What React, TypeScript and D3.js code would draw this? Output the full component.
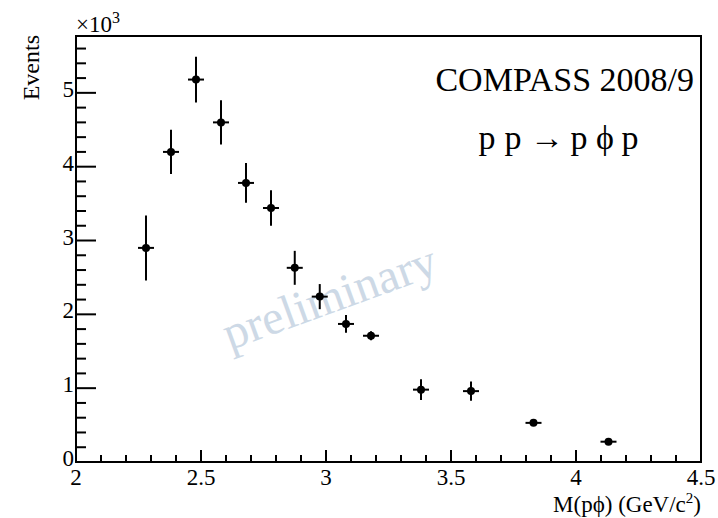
import React from 'react';
import * as d3 from 'd3';

// M(p phi) bin centres in GeV/c^2
const mass = [2.28, 2.38, 2.48, 2.58, 2.68, 2.78, 2.875, 2.975, 3.08, 3.18, 3.38, 3.58, 3.83, 4.13];
// events in units of 10^3
const events = [2.9, 4.2, 5.18, 4.6, 3.78, 3.44, 2.63, 2.24, 1.87, 1.71, 0.98, 0.96, 0.53, 0.275];
const errors = [0.44, 0.3, 0.31, 0.3, 0.27, 0.24, 0.23, 0.17, 0.12, 0.06, 0.14, 0.13, 0.04, 0.02];

const xMajor = [2, 2.5, 3, 3.5, 4, 4.5];
const yMajor = [0, 1, 2, 3, 4, 5];

const reaction = ['p', 'p', '→', 'p', 'ϕ', 'p'];

const FONT = '"Liberation Serif", "DejaVu Serif", serif';

const App = () => {
  const ref = React.useRef<SVGSVGElement>(null);

  React.useEffect(() => {
    const svg = d3.select(ref.current);
    svg.selectAll('*').remove();

    const width = 718;
    const height = 518;
    const left = 76, right = 701, top = 36, bottom = 462;

    const x = d3.scaleLinear().domain([2, 4.5]).range([left, right]);
    const y = d3.scaleLinear().domain([0, 5.77]).range([bottom, top]);

    svg.attr('width', width).attr('height', height);
    svg.append('rect').attr('width', width).attr('height', height).attr('fill', '#fff');

    // watermark
    svg.append('text')
      .attr('transform', 'translate(335,312) rotate(-20)')
      .attr('text-anchor', 'middle')
      .attr('font-family', FONT)
      .attr('font-size', 48)
      .attr('fill', '#cdd9e6')
      .text('preliminary');

    // frame
    svg.append('rect')
      .attr('x', left).attr('y', top)
      .attr('width', right - left).attr('height', bottom - top)
      .attr('fill', 'none').attr('stroke', '#000').attr('stroke-width', 2);

    // x ticks
    const xMinor = d3.range(20, 45).map(d => d / 10);
    svg.append('g').selectAll('line')
      .data(xMinor)
      .join('line')
      .attr('x1', d => x(d)).attr('x2', d => x(d))
      .attr('y1', bottom)
      .attr('y2', d => bottom - (Math.abs(d * 2 - Math.round(d * 2)) < 1e-6 ? 12 : 7))
      .attr('stroke', '#000').attr('stroke-width', 2);

    svg.append('g')
      .attr('font-family', FONT).attr('font-size', 23).attr('text-anchor', 'middle')
      .selectAll('text')
      .data(xMajor)
      .join('text')
      .attr('x', d => x(d)).attr('y', 485)
      .text(d => d3.format('')(d));

    // y ticks
    const yMinor = d3.range(0, 29).map(d => d / 5);
    svg.append('g').selectAll('line')
      .data(yMinor)
      .join('line')
      .attr('x1', left)
      .attr('x2', d => left + (Math.abs(d - Math.round(d)) < 1e-6 ? 20 : 10))
      .attr('y1', d => y(d)).attr('y2', d => y(d))
      .attr('stroke', '#000').attr('stroke-width', 2);

    svg.append('g')
      .attr('font-family', FONT).attr('font-size', 23).attr('text-anchor', 'end')
      .selectAll('text')
      .data(yMajor)
      .join('text')
      .attr('x', 74).attr('y', d => y(d) + 4)
      .text(d => d);

    // exponent
    const exp = svg.append('text')
      .attr('x', left).attr('y', 32)
      .attr('font-family', FONT).attr('font-size', 23);
    exp.append('tspan').text('×10');
    exp.append('tspan').attr('dy', -9).attr('font-size', 16).text('3');

    // axis titles
    svg.append('text')
      .attr('transform', 'translate(39,35) rotate(-90)')
      .attr('text-anchor', 'end')
      .attr('font-family', FONT).attr('font-size', 24)
      .text('Events');

    const xt = svg.append('text')
      .attr('x', right).attr('y', 512)
      .attr('text-anchor', 'end')
      .attr('font-family', FONT).attr('font-size', 23);
    xt.append('tspan').text('M(pϕ) (GeV/c');
    xt.append('tspan').attr('dy', -9).attr('font-size', 15).text('2');
    xt.append('tspan').attr('dy', 9).text(')');

    // labels
    svg.append('text')
      .attr('x', 694).attr('y', 91)
      .attr('text-anchor', 'end')
      .attr('font-family', FONT).attr('font-size', 34)
      .text('COMPASS 2008/9');

    // reaction, one glyph per slot
    const slots = [487, 513, 547, 579, 605, 630];
    const rx = svg.append('text')
      .attr('y', 149)
      .attr('text-anchor', 'middle')
      .attr('font-family', FONT).attr('font-size', 34);
    reaction.forEach((s, i) => {
      rx.append('tspan').attr('x', slots[i]).text(s);
    });

    // data points
    const pts = mass.map((m, i) => ({ m, v: events[i], e: errors[i] }));
    const g = svg.append('g');
    g.selectAll('line.ey')
      .data(pts)
      .join('line')
      .attr('class', 'ey')
      .attr('x1', d => x(d.m)).attr('x2', d => x(d.m))
      .attr('y1', d => y(d.v + d.e)).attr('y2', d => y(d.v - d.e))
      .attr('stroke', '#000').attr('stroke-width', 2);
    g.selectAll('line.ex')
      .data(pts)
      .join('line')
      .attr('class', 'ex')
      .attr('x1', d => x(d.m) - 8).attr('x2', d => x(d.m) + 8)
      .attr('y1', d => y(d.v)).attr('y2', d => y(d.v))
      .attr('stroke', '#000').attr('stroke-width', 2);
    g.selectAll('circle')
      .data(pts)
      .join('circle')
      .attr('cx', d => x(d.m)).attr('cy', d => y(d.v))
      .attr('r', 4)
      .attr('fill', '#000');
  }, []);

  return <svg ref={ref} style={{ position: 'absolute', left: 0, top: 0 }} />;
};

export default App;
